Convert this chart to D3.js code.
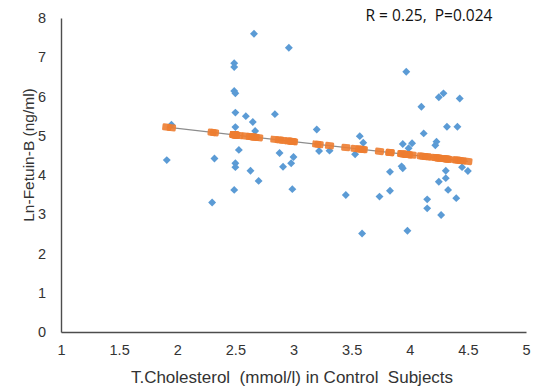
<!DOCTYPE html>
<html><head><meta charset="utf-8">
<script src="https://cdn.jsdelivr.net/npm/d3@7"></script>
<style>
html,body{margin:0;padding:0;background:#fff;}
text{font-family:"Liberation Sans",Arial,sans-serif;fill:#333;}
</style></head>
<body><svg id="c" width="534" height="387"></svg>
<script>
const cholesterol = [1.91,1.95,2.30,2.32,2.49,2.49,2.49,2.50,2.50,2.50,2.50,2.50,2.49,2.53,2.59,2.63,2.65,2.67,2.66,2.70,2.84,2.88,2.91,2.96,2.98,3.00,2.99,3.20,3.22,3.31,3.45,3.53,3.57,3.60,3.59,3.74,3.83,3.83,3.93,3.94,3.94,3.97,3.98,3.99,4.02,4.10,4.12,4.15,4.15,4.22,4.23,4.25,4.25,4.27,4.29,4.31,4.31,4.32,4.33,4.40,4.41,4.43,4.45,4.50];
const lnFetuin = [4.38,5.28,3.30,4.42,6.85,6.75,6.14,6.08,5.59,5.22,4.30,4.20,3.62,4.64,5.50,4.11,5.35,5.12,7.60,3.85,5.55,4.56,4.21,7.24,4.30,4.46,3.64,5.16,4.61,4.62,3.49,4.53,4.99,4.82,2.51,3.45,4.08,3.60,4.22,4.17,4.79,6.63,2.58,4.68,4.81,5.74,5.06,3.38,3.15,4.76,4.85,5.98,3.83,2.98,6.08,4.11,3.92,5.23,3.62,3.41,5.23,5.95,4.20,4.10];
const trendIntercept = 5.86;
const trendSlope = -0.336;
const xTicks = [1,1.5,2,2.5,3,3.5,4,4.5,5];
const yTicks = [0,1,2,3,4,5,6,7,8];
const annotation = "R = 0.25,  P=0.024";

const svg = d3.select("#c");
const x = d3.scaleLinear().domain([1,5]).range([61,526]);
const y = d3.scaleLinear().domain([0,8]).range([332,18]);

// axes
const xAxis = d3.axisBottom(x).tickValues(xTicks).tickSize(0).tickPadding(13).tickFormat(d=>String(d));
const gx = svg.append("g").attr("transform",`translate(0,${y(0)})`).call(xAxis);
gx.select(".domain").attr("stroke","#4d4d4d").attr("stroke-width",1.4);
gx.selectAll("text").attr("font-size",14.5).attr("fill","#333").style("font-family","Liberation Sans, Arial, sans-serif");

const yAxis = d3.axisLeft(y).tickValues(yTicks).tickSize(0).tickPadding(15).tickFormat(d=>String(d));
const gy = svg.append("g").attr("transform",`translate(${x(1)},0)`).call(yAxis);
gy.select(".domain").attr("stroke","#4d4d4d").attr("stroke-width",1.4);
gy.selectAll("text").attr("font-size",14.5).attr("fill","#333").style("font-family","Liberation Sans, Arial, sans-serif");

// titles
svg.append("text").attr("x",292).attr("y",383).attr("text-anchor","middle")
  .attr("font-size",17).style("white-space","pre").text("T.Cholesterol  (mmol/l) in Control  Subjects");
svg.append("text").attr("transform","translate(34,155) rotate(-90)").attr("text-anchor","middle")
  .attr("font-size",15.5).text("Ln-Fetuin-B (ng/ml)");
svg.append("text").attr("x",429).attr("y",21).attr("text-anchor","middle")
  .attr("font-size",15.5).style("fill","#111").style("font-family","Open Sans, sans-serif").style("white-space","pre").text(annotation);

const data = cholesterol.map((c,i)=>({x:c,y:lnFetuin[i]}));

// blue points (rotated squares)
svg.append("g").selectAll("rect").data(data).join("rect")
  .attr("x",-2.8).attr("y",-2.8).attr("width",5.6).attr("height",5.6)
  .attr("transform",d=>`translate(${x(d.x)},${y(d.y)}) rotate(45)`)
  .attr("fill","#5B9BD5");

// trend line
const xMin = d3.min(cholesterol), xMax = d3.max(cholesterol);
svg.append("line").attr("x1",x(xMin)).attr("y1",y(trendIntercept+trendSlope*xMin))
  .attr("x2",x(xMax)).attr("y2",y(trendIntercept+trendSlope*xMax))
  .attr("stroke","#8c8c8c").attr("stroke-width",1.2);

// predicted (orange) markers
const ang = Math.atan2(y(trendIntercept+trendSlope*xMax)-y(trendIntercept+trendSlope*xMin), x(xMax)-x(xMin))*180/Math.PI;
svg.append("g").selectAll("rect").data(cholesterol).join("rect")
  .attr("x",-4.5).attr("y",-3.5).attr("width",9).attr("height",7).attr("rx",1.5)
  .attr("transform",d=>`translate(${x(d)},${y(trendIntercept+trendSlope*d)}) rotate(${ang})`)
  .attr("fill","#ED7D31").attr("opacity",0.9);
</script></body></html>
